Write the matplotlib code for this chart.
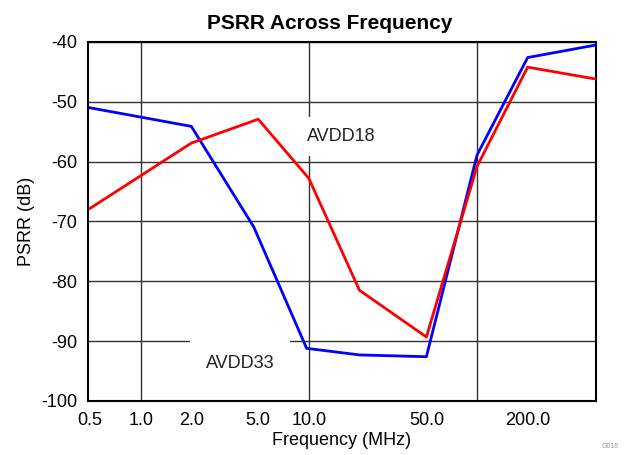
import numpy as np
import matplotlib.pyplot as plt
from matplotlib.ticker import FixedLocator

plt.rcParams['font.family'] = ['Liberation Sans', 'DejaVu Sans']
plt.rcParams['axes.unicode_minus'] = False

# Frequency points (MHz) and PSRR readings (dB)
freq = [0.5, 2.0, 4.7, 9.7, 20.0, 50.0, 100.0, 200.0, 510.0]
avdd33 = [-51.0, -54.1, -70.9, -91.2, -92.3, -92.6, -58.9, -42.6, -40.5]
freq18 = [0.5, 2.0, 5.0, 10.0, 20.0, 50.0, 100.0, 200.0, 510.0]
avdd18 = [-67.8, -56.9, -52.9, -62.8, -81.5, -89.3, -60.8, -44.2, -46.2]

xtick_vals = [0.5, 1.0, 2.0, 5.0, 10.0, 50.0, 200.0]
xtick_labels = ['0.5', '1.0', '2.0', '5.0', '10.0', '50.0', '200.0']
xgrid_vals = [1.0, 10.0, 100.0]
yticks = [-100, -90, -80, -70, -60, -50, -40]


def make_plot():
    fig = plt.figure(figsize=(6.25, 4.55), dpi=100)
    ax = fig.add_axes([0.1408, 0.1187, 0.8128, 0.789])

    ax.plot(freq, avdd33, color='#0000ff', lw=2.0, zorder=4)
    ax.plot(freq18, avdd18, color='#ff0000', lw=2.0, zorder=4)

    ax.set_xscale('log')
    ax.set_xlim(0.486, 510)
    ax.set_ylim(-100, -40)

    ax.xaxis.set_major_locator(FixedLocator(xtick_vals))
    ax.set_xticklabels(xtick_labels)
    ax.xaxis.set_minor_locator(FixedLocator([]))
    ax.set_yticks(yticks)

    ax.tick_params(axis='both', which='both', length=0, labelsize=13)
    ax.tick_params(axis='x', pad=8)
    ax.tick_params(axis='y', pad=8)
    # grid: horizontal at every 10 dB, vertical only at decades
    ax.grid(which='major', axis='y', color='#333333', lw=1.0, zorder=1)
    for xv in xgrid_vals:
        ax.axvline(xv, color='#333333', lw=1.0, zorder=1)
    for sp in ax.spines.values():
        sp.set_linewidth(1.5)
        sp.set_color('black')

    ax.text(9.75, -55.8, 'AVDD18', fontsize=13, ha='left', va='center', color='#222222',
            bbox=dict(boxstyle='square,pad=0.62', facecolor='white', edgecolor='none'), zorder=3)
    ax.text(2.436, -93.8, 'AVDD33', fontsize=13, ha='left', va='center', color='#222222',
            bbox=dict(boxstyle='square,pad=0.85', facecolor='white', edgecolor='none'), zorder=3)

    ax.set_title('PSRR Across Frequency', fontsize=15, fontweight='bold', pad=9, x=0.476)
    ax.set_xlabel('Frequency (MHz)', fontsize=13, labelpad=2)
    ax.set_ylabel('PSRR (dB)', fontsize=13, labelpad=4)

    fig.text(0.99, 0.01, 'G018', fontsize=5, color='#999999', ha='right', va='bottom')

    fig.savefig('out.png', dpi=100)


if __name__ == '__main__':
    make_plot()
